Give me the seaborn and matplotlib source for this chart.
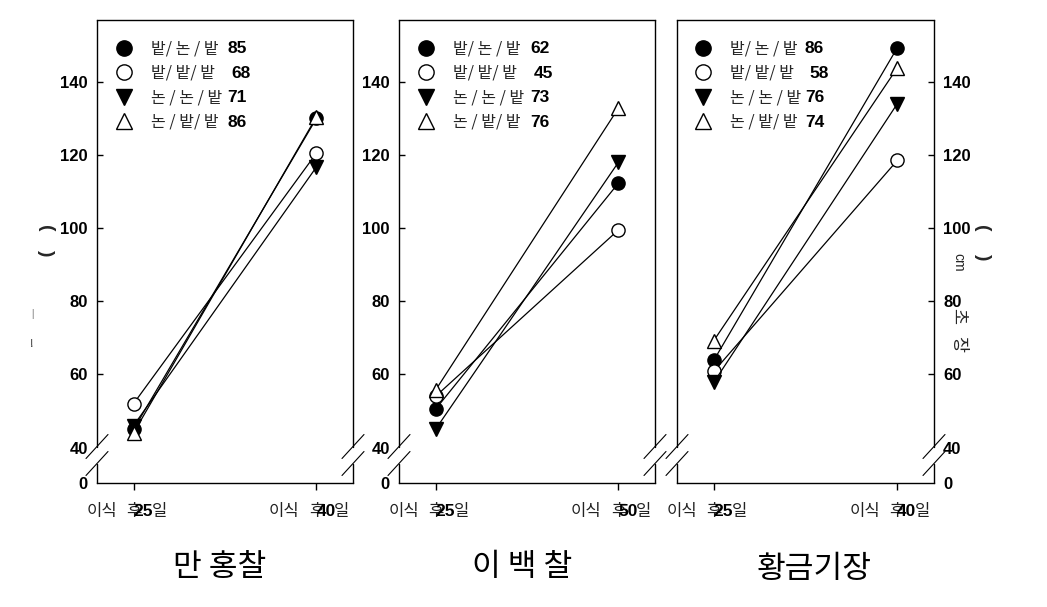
import numpy as np
import pandas as pd
import matplotlib
matplotlib.use("Agg")
import matplotlib.pyplot as plt
import seaborn as sns
from matplotlib.lines import Line2D

# ---------------- data ----------------
panel_titles = ["만 홍찰", "이 백 찰", "황금기장"]
early_day = "25"
late_days = ["40", "50", "40"]
series_labels = ["밭/ 논 / 밭", "밭/ 밭/ 밭", "논 / 논 / 밭", "논 / 밭/ 밭"]
legend_numbers = [["85", "68", "71", "86"],
                  ["62", "45", "73", "76"],
                  ["86", "58", "76", "74"]]

# plant height (cm) at [25 days, late day] after transplanting
manhong = [[45.0, 130.0], [52.0, 120.5], [46.0, 116.7], [44.0, 130.4]]
ibaek = [[50.5, 112.3], [54.0, 99.5], [45.0, 118.0], [55.7, 132.8]]
hwanggeum = [[63.8, 149.3], [60.8, 118.5], [57.8, 134.0], [69.2, 143.8]]
panel_values = [manhong, ibaek, hwanggeum]

ytick_values = [40, 60, 80, 100, 120, 140]
ytick_labels = ["0", "40", "60", "80", "100", "120", "140"]

# ---------------- style ----------------
sns.set_theme(style="white")
plt.rcParams["font.family"] = ["Noto Sans CJK KR", "DejaVu Sans"]
NUMFONT = ["Liberation Sans", "DejaVu Sans"]

markers = ["o", "o", "v", "^"]
faces = ["black", "white", "black", "white"]
msizes = [9.5, 9.5, 10.5, 10.5]

W, H = 1047, 607
fig = plt.figure(figsize=(W / 100, H / 100), dpi=100)


def axrect(l, r, t=20, b=483):
    return [l / W, 1 - b / H, (r - l) / W, (b - t) / H]


rects = [axrect(97, 353), axrect(399, 655), axrect(677, 934)]
YB, YT = 30.3, 156.9
num_cols = [0.508, 0.512, 0.498]
leg_x = [0.074, 0.074, 0.070]

axes = []
for i, rect in enumerate(rects):
    ax = fig.add_axes(rect)
    axes.append(ax)
    vals = panel_values[i]
    for j, lab in enumerate(series_labels):
        df = pd.DataFrame({"x": [0, 1], "y": vals[j]})
        sns.lineplot(data=df, x="x", y="y", ax=ax, color="black", lw=0.9,
                     marker=markers[j], markersize=msizes[j],
                     markerfacecolor=faces[j], markeredgecolor="black",
                     markeredgewidth=1.0, legend=False, zorder=3 + j)
    ax.set_xlabel("")
    ax.set_ylabel("")
    ax.set_xlim(-0.2, 1.2)
    ax.set_ylim(YB, YT)
    ax.set_facecolor("white")

    # x ticks
    ax.set_xticks([0, 1])
    ax.set_xticklabels(["", ""])
    ax.tick_params(axis="x", bottom=True, direction="out", length=5,
                   width=1, color="black")

    # y ticks
    ax.set_yticks([YB] + ytick_values)
    if i == 2:
        ax.yaxis.tick_right()
        ax.tick_params(axis="y", right=True, left=False, direction="in",
                       length=4, width=1, color="black", pad=6.5,
                       labelsize=12, labelright=True, labelleft=False)
    else:
        ax.tick_params(axis="y", left=True, right=False, direction="in",
                       length=4, width=1, color="black", pad=6.5,
                       labelsize=12)
    ax.set_yticklabels(ytick_labels)
    for t in ax.get_yticklabels():
        t.set_fontweight("bold")
        t.set_fontfamily(NUMFONT)
        t.set_color("black")
    for tk in ax.yaxis.get_major_ticks()[:2]:
        tk.tick1line.set_visible(False)
        tk.tick2line.set_visible(False)

    # spines with breaks
    for s in ["top", "bottom"]:
        ax.spines[s].set_color("black")
        ax.spines[s].set_linewidth(1.0)
    ax.spines["left"].set_visible(False)
    ax.spines["right"].set_visible(False)
    f_lo = (483 - 463.5) / 463
    f_hi = (483 - 446.5) / 463
    dx, dy = 11 / (rect[2] * W), 12 / 463
    for x0 in (0, 1):
        ax.plot([x0, x0], [0, f_lo], transform=ax.transAxes, clip_on=False,
                color="black", lw=1.0)
        ax.plot([x0, x0], [f_hi, 1], transform=ax.transAxes, clip_on=False,
                color="black", lw=1.0)
        for yc in (f_lo, f_hi):
            ax.plot([x0 - dx, x0 + dx], [yc - dy, yc + dy],
                    transform=ax.transAxes, clip_on=False, color="black",
                    lw=0.8)

    # legend
    handles = [Line2D([], [], ls="none", marker=markers[j], markersize=11,
                      markerfacecolor=faces[j], markeredgecolor="black",
                      markeredgewidth=1.0) for j in range(4)]
    ax.legend(handles, series_labels, loc="upper left",
              bbox_to_anchor=(leg_x[i], 0.956), frameon=False,
              handlelength=1.0, handletextpad=1.2, labelspacing=0.47,
              borderaxespad=0, borderpad=0,
              prop={"family": ["Noto Sans CJK KR", "DejaVu Sans"], "size": 11.5})

    # x tick labels (composite, overlapping as in the original)
    for xi, num in [(0, early_day), (1, late_days[i])]:
        base = dict(xy=(xi, 0), xycoords=("data", "axes fraction"),
                    textcoords="offset points", ha="center", va="center",
                    annotation_clip=False)
        yoff = -28.5 * 0.72
        ax.annotate("이식", xytext=(-32 * 0.72, yoff), fontsize=12,
                    color="#222222", **base)
        ax.annotate("후", xytext=(0, yoff), fontsize=12, color="#222222",
                    **base)
        ax.annotate(num, xytext=(9.5 * 0.72, yoff), fontsize=12.5,
                    fontweight="bold", family=NUMFONT, color="black", **base)
        ax.annotate("일", xytext=(25.5 * 0.72, yoff), fontsize=12,
                    color="#222222", **base)

# numbers after legend labels
fig.canvas.draw()
renderer = fig.canvas.get_renderer()
for i, ax in enumerate(axes):
    leg = ax.get_legend()
    inv = ax.transAxes.inverted()
    for j, txt in enumerate(leg.get_texts()):
        bb = txt.get_window_extent(renderer)
        yc = (bb.y0 + bb.y1) / 2
        right = inv.transform((bb.x1 + 3, yc))[0]
        ya = inv.transform((bb.x1, yc))[1]
        xcol = num_cols[i] + (0.016 if j == 1 else 0)
        ax.text(max(xcol, right), ya, legend_numbers[i][j], transform=ax.transAxes,
                ha="left", va="center", fontsize=12.5, fontweight="bold",
                family=NUMFONT, color="black")

# panel titles
for t, (cx, cy) in zip(panel_titles, [(220, 567), (522, 567), (814, 569)]):
    fig.text(cx / W, 1 - cy / H, t, ha="center", va="center", fontsize=22.5,
             color="black")

# axis-label remnants
fig.text(45 / W, 1 - 228 / H, "(", rotation=-90, fontsize=14,
         fontweight="bold", ha="center", va="center", family=NUMFONT)
fig.text(45 / W, 1 - 253 / H, ")", rotation=-90, fontsize=14,
         fontweight="bold", ha="center", va="center", family=NUMFONT)
fig.text(32 / W, 1 - 314 / H, "|", fontsize=6, ha="center", va="center")
fig.text(32 / W, 1 - 344 / H, "!", fontsize=8, ha="center", va="center")
fig.text(982 / W, 1 - 228 / H, "(", rotation=-90, fontsize=14,
         fontweight="bold", ha="center", va="center", family=NUMFONT)
fig.text(982 / W, 1 - 257 / H, ")", rotation=-90, fontsize=14,
         fontweight="bold", ha="center", va="center", family=NUMFONT)
fig.text(958 / W, 1 - 262 / H, "cm", rotation=-90, fontsize=10,
         ha="center", va="center", family=NUMFONT)
fig.text(958 / W, 1 - 316 / H, "초", rotation=-90, fontsize=12.5,
         ha="center", va="center")
fig.text(958 / W, 1 - 344 / H, "장", rotation=-90, fontsize=12.5,
         ha="center", va="center")

fig.savefig("out.png", dpi=100, facecolor="white")
